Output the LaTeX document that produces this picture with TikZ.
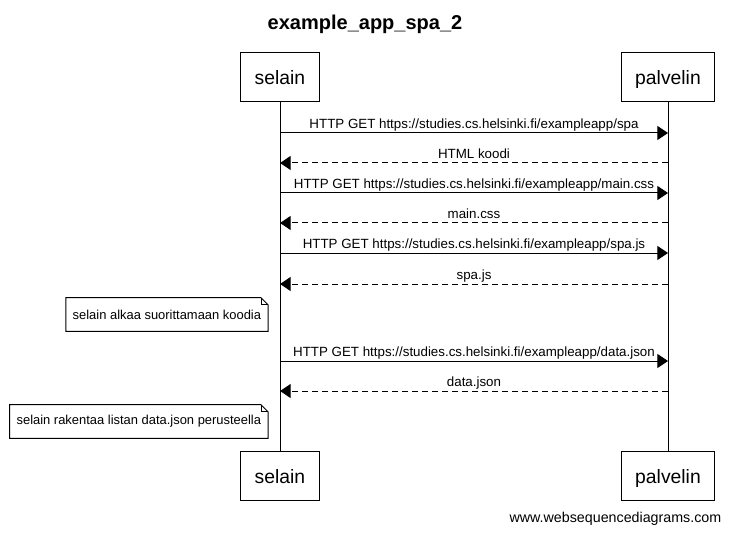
\documentclass[tikz,border=0pt]{standalone}
\usepackage{fontspec}
\setmainfont{Liberation Sans}
\usetikzlibrary{positioning,arrows.meta}

\begin{document}
\begin{tikzpicture}[x=0.75pt,y=-0.75pt,
    actor/.style={draw=black, line width=0.75pt, minimum height=36.75pt, inner xsep=10.5pt, text height=12.5pt, text depth=1.25pt, font=\fontsize{14.5}{16}\selectfont},
    note/.style={minimum height=24.75pt, inner xsep=5pt, font=\fontsize{9.7}{11}\selectfont},
    request/.style={draw=black, line width=0.75pt, -{Triangle[length=8pt,width=10.5pt]}},
    response/.style={request, dash pattern=on 4.5pt off 3pt},
    msglabel/.style={above, inner sep=1pt, text depth=2.2pt, font=\fontsize{10}{12}\selectfont}]
  \useasboundingbox (0,0) rectangle (730,534);

  % Title
  \node[font=\bfseries\fontsize{15}{18}\selectfont] (title) at (365,24) {example\_app\_spa\_2};

  % Participants
  \node[actor] (selain-top) at (280,77.5) {selain};
  \node[actor] (palvelin-top) at (668,77.5) {palvelin};
  \node[actor] (selain-bot) at (280,475.5) {selain};
  \node[actor] (palvelin-bot) at (668,475.5) {palvelin};

  % Lifelines
  \draw[line width=0.75pt] (selain-top) -- (selain-bot);
  \draw[line width=0.75pt] (palvelin-top) -- (palvelin-bot);

  % Message points
  \foreach \i/\y in {1/133,2/163,3/193,4/223,5/253,6/284,7/361,8/391} {
    \coordinate (s-\i) at (280,\y);
    \coordinate (p-\i) at (668,\y);
  }

  % Requests
  \foreach \i/\file in {1/spa,3/main.css,5/spa.js,7/data.json}
    \draw[request] (s-\i) -- (p-\i) node[midway, msglabel] {HTTP GET https://studies.cs.helsinki.fi/exampleapp/\file};

  % Responses
  \foreach \i/\txt in {2/HTML koodi,4/main.css,6/spa.js,8/data.json}
    \draw[response] (p-\i) -- (s-\i) node[midway, msglabel] {\txt};

  % Notes
  \node[note, anchor=east] (note-1) at (268,314.5) {selain alkaa suorittamaan koodia};
  \node[note, anchor=east] (note-2) at (268,421.5) {selain rakentaa listan data.json perusteella};
  \foreach \n in {note-1,note-2} {
    \draw[line width=0.75pt] (\n.north west) -- ([xshift=-5.25pt]\n.north east) -- ([yshift=-5.25pt]\n.north east)
      -- (\n.south east) -- (\n.south west) -- cycle;
    \draw[line width=0.5pt] ([xshift=-5.25pt]\n.north east) |- ([yshift=-5.25pt]\n.north east);
  }

  % Footer
  \node[anchor=east, font=\fontsize{10.7}{12}\selectfont] (footer) at (726,519) {www.websequencediagrams.com};
\end{tikzpicture}
\end{document}
